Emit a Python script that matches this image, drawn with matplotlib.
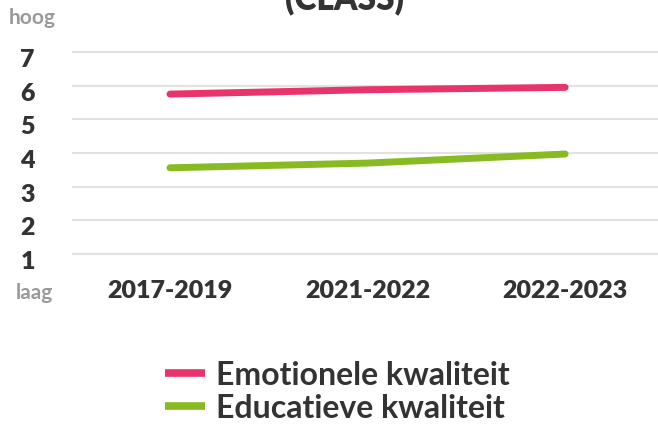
import matplotlib.pyplot as plt
import matplotlib.transforms as mtransforms

# data
periods = ['2017-2019', '2021-2022', '2022-2023']
emotionele = [5.75, 5.88, 5.95]
educatieve = [3.56, 3.70, 3.97]
y_ticks = [1, 2, 3, 4, 5, 6, 7]

pink = '#e8336b'
green = '#88bb22'
dark = '#333333'
grey = '#9a9a9a'

plt.rcParams['font.family'] = ['Lato', 'DejaVu Sans']
plt.rcParams['font.weight'] = 'bold'

fig = plt.figure(figsize=(6.58, 4.27), dpi=100)
ax = fig.add_axes([0.1094, 0.3635, 0.8906, 0.5517])

x = list(range(len(periods)))
ax.plot(x, emotionele, color=pink, lw=5, solid_capstyle='round', label='Emotionele kwaliteit')
ax.plot(x, educatieve, color=green, lw=5, solid_capstyle='round', label='Educatieve kwaliteit')

ax.set_xlim(-0.496, 2.47)
ax.set_ylim(0.5, 7.5)
ax.set_yticks(y_ticks)
ax.set_xticks(x)
ax.set_xticklabels(periods, fontsize=18, fontweight='heavy', color=dark)
ax.set_yticklabels([str(v) for v in y_ticks], fontsize=18, fontweight='heavy', color=dark)
ax.tick_params(length=0)
ax.tick_params(axis='y', pad=32)
ax.tick_params(axis='x', pad=6)
for lab in ax.get_yticklabels():
    lab.set_horizontalalignment('center')
    lab.set_transform(lab.get_transform() + mtransforms.ScaledTranslation(0, -0.05, fig.dpi_scale_trans))

ax.grid(axis='y', color='#e2e2e2', lw=1.5)
ax.set_axisbelow(True)
for s in ax.spines.values():
    s.set_visible(False)

fig.text(32 / 658, 1 - 18 / 427, 'hoog', ha='center', va='center', fontsize=15, fontweight='bold', color=grey)
fig.text(34 / 658, 1 - 293 / 427, 'laag', ha='center', va='center', fontsize=15, fontweight='bold', color=grey)
fig.text(345 / 658, 1 - 9 / 427, '(CLASS)', ha='center', va='baseline', fontsize=24, fontweight='heavy', color=dark)

leg = ax.legend(loc='upper left', bbox_to_anchor=(165 / 658, 1 - 361 / 427), bbox_transform=fig.transFigure,
                frameon=False, fontsize=23, handlelength=1.25, handletextpad=0.35, labelspacing=0.12,
                borderaxespad=0, borderpad=0)
for t in leg.get_texts():
    t.set_color(dark)
    t.set_fontweight('bold')
for h in leg.get_lines():
    h.set_linewidth(5.5)
    h.set_solid_capstyle('butt')

fig.savefig('out.png', dpi=100)
